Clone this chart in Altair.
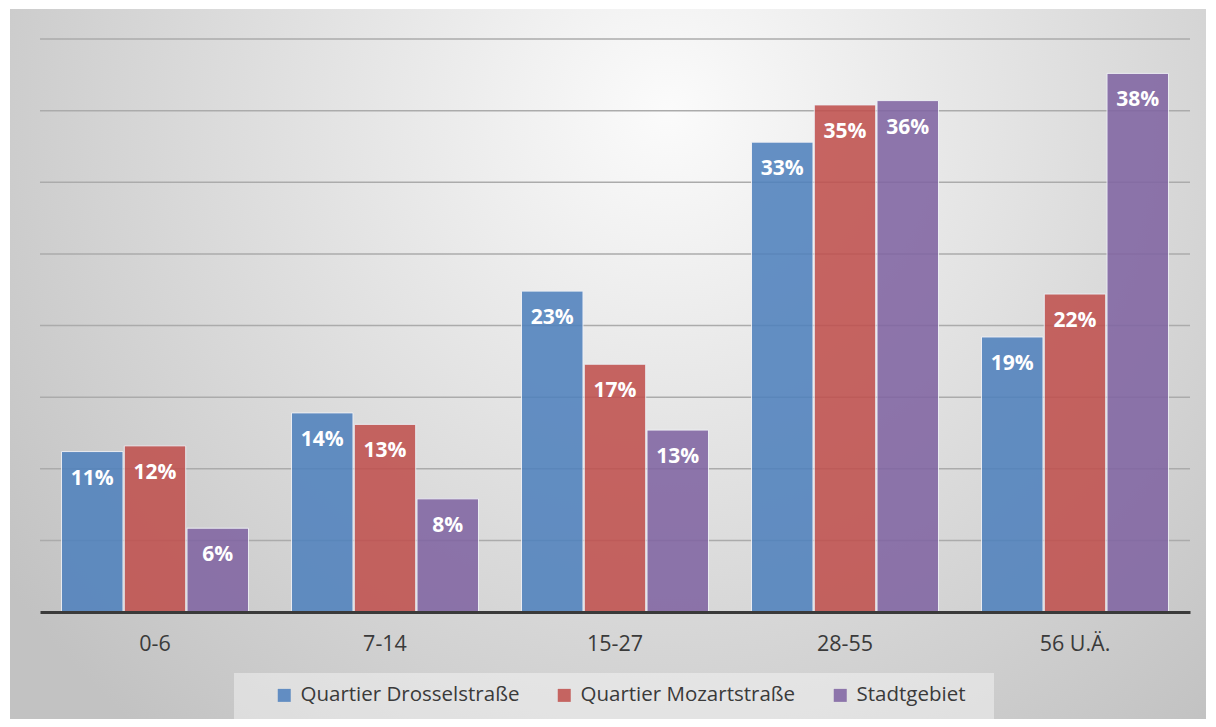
import altair as alt
import pandas as pd

categories = ["0-6", "7-14", "15-27", "28-55", "56 U.Ä."]
series = ["Quartier Drosselstraße", "Quartier Mozartstraße", "Stadtgebiet"]
drossel = [11.2, 13.9, 22.4, 32.8, 19.2]
mozart = [11.6, 13.1, 17.3, 35.4, 22.2]
stadt = [5.85, 7.9, 12.7, 35.7, 37.6]
labels_drossel = ["11%", "14%", "23%", "33%", "19%"]
labels_mozart = ["12%", "13%", "17%", "35%", "22%"]
labels_stadt = ["6%", "8%", "13%", "36%", "38%"]
colors = ["#4F81BD", "#C0504D", "#8064A2"]
grid_values = [5, 10, 15, 20, 25, 30, 35, 40]

rows = []
for vals, labs, s in [(drossel, labels_drossel, series[0]),
                      (mozart, labels_mozart, series[1]),
                      (stadt, labels_stadt, series[2])]:
    for c, v, l in zip(categories, vals, labs):
        rows.append({"cat": c, "series": s, "value": v, "label": l})
df = pd.DataFrame(rows)

W, H = 1150, 573
FONT = "Open Sans"

bg = alt.Chart(alt.Data(values=[{}])).mark_rect(
    fill=alt.Gradient(
        gradient="radial",
        stops=[alt.GradientStop(color="#fbfbfb", offset=0),
               alt.GradientStop(color="#c2c2c2", offset=1)],
        x1=0.55, y1=0.28, r1=0, x2=0.55, y2=0.28, r2=0.68),
).encode(x=alt.value(-30), x2=alt.value(1166), y=alt.value(-30), y2=alt.value(700))

legend_box = alt.Chart(alt.Data(values=[{}])).mark_rect(
    fill="#ffffff", fillOpacity=0.4
).encode(x=alt.value(194), x2=alt.value(954), y=alt.value(634), y2=alt.value(680))

yscale = alt.Scale(domain=[0, 40], nice=False)

grid = alt.Chart(pd.DataFrame({"g": grid_values})).mark_rule(
    color="#ababab", strokeWidth=1.5
).encode(y=alt.Y("g:Q", scale=yscale, axis=None))

xenc = alt.X("cat:N", sort=categories,
             scale=alt.Scale(paddingInner=0.187, paddingOuter=0.0935),
             axis=alt.Axis(title=None, labelFont=FONT, labelFontSize=21.5,
                           labelColor="#3a3a3a", labelPadding=21, ticks=False,
                           domainColor="#3a3a3a", domainWidth=3, labelAngle=0,
                           zindex=1, grid=False))

bars = alt.Chart(df).mark_bar(opacity=0.87, stroke="#eef0f6", strokeWidth=1).encode(
    x=xenc,
    xOffset=alt.XOffset("series:N", sort=series, scale=alt.Scale(paddingInner=0.02)),
    y=alt.Y("value:Q", scale=yscale, axis=None),
    color=alt.Color("series:N", sort=series,
                    scale=alt.Scale(domain=series, range=colors),
                    legend=alt.Legend(title=None, orient="none", legendX=234, legendY=646,
                                      direction="horizontal", symbolType="square",
                                      symbolSize=169, symbolStrokeWidth=0,
                                      labelFont=FONT, labelFontSize=20.5, labelLimit=0,
                                      labelColor="#3a3a3a", labelOffset=6,
                                      columnPadding=34, padding=0, zindex=1)),
)

texts = alt.Chart(df).mark_text(
    color="white", font=FONT, fontSize=21, fontWeight="bold",
    baseline="middle", dy=27
).encode(
    x=alt.X("cat:N", sort=categories),
    xOffset=alt.XOffset("series:N", sort=series),
    y=alt.Y("value:Q", scale=yscale, axis=None),
    text="label:N",
)

chart = alt.layer(bg, legend_box, grid, bars, texts).properties(
    width=W, height=H,
    padding={"left": 32, "top": 31, "right": 18, "bottom": 107},
    autosize=alt.AutoSizeParams(type="none"),
).configure_view(stroke=None).configure(background="#ffffff")

chart.save("out.html", embed_options={"renderer": "svg", "actions": False})
